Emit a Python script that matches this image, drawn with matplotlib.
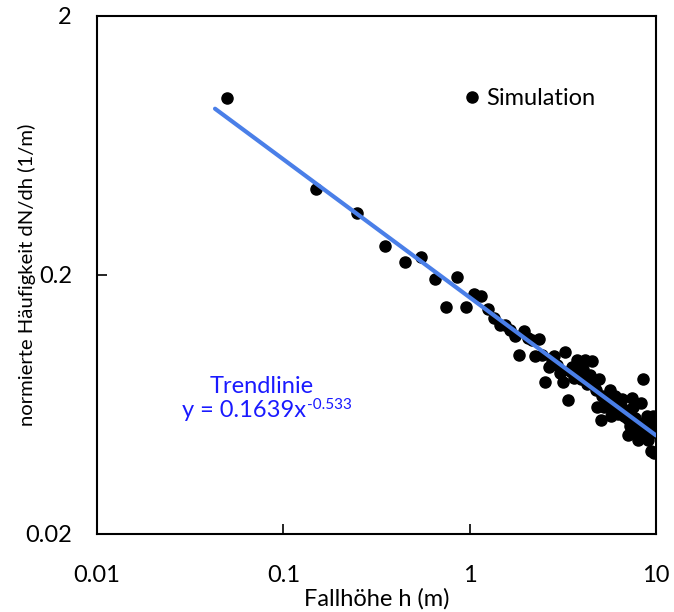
import matplotlib
matplotlib.use('Agg')
import matplotlib.pyplot as plt
import numpy as np

plt.rcParams['font.family'] = ['Lato', 'DejaVu Sans']

# bin centres of the fall height (m)
h = [0.05, 0.15, 0.25, 0.35, 0.45, 0.55, 0.65, 0.75, 0.85, 0.95,
     1.05, 1.15, 1.25, 1.35, 1.45, 1.55, 1.65, 1.75, 1.85, 1.95,
     2.05, 2.15, 2.25, 2.35, 2.45, 2.55, 2.65, 2.75, 2.85, 2.95,
     3.05, 3.15, 3.25, 3.35, 3.45, 3.55, 3.65, 3.75, 3.85, 3.95,
     4.05, 4.15, 4.25, 4.35, 4.45, 4.55, 4.65, 4.75, 4.85, 4.95,
     5.05, 5.15, 5.25, 5.35, 5.45, 5.55, 5.65, 5.75, 5.85, 5.95,
     6.05, 6.15, 6.25, 6.35, 6.45, 6.55, 6.65, 6.75, 6.85, 6.95,
     7.05, 7.15, 7.25, 7.35, 7.45, 7.55, 7.65, 7.75, 7.85, 7.95,
     8.05, 8.15, 8.25, 8.35, 8.45, 8.55, 8.65, 8.75, 8.85, 8.95,
     9.05, 9.15, 9.25, 9.35, 9.45, 9.55, 9.65, 9.75, 9.85, 9.95]

# normalised frequency dN/dh (1/m)
freq = [0.965, 0.430, 0.347, 0.259, 0.224, 0.235, 0.193, 0.150, 0.196, 0.150,
        0.169, 0.166, 0.148, 0.136, 0.128, 0.128, 0.123, 0.116, 0.098, 0.122,
        0.114, 0.112, 0.097, 0.113, 0.098, 0.077, 0.088, 0.094, 0.097, 0.090,
        0.084, 0.077, 0.101, 0.066, 0.085, 0.088, 0.080, 0.094, 0.083, 0.079,
        0.087, 0.094, 0.076, 0.077, 0.082, 0.093, 0.075, 0.072, 0.062, 0.079,
        0.055, 0.068, 0.062, 0.067, 0.064, 0.069, 0.072, 0.057, 0.062, 0.064,
        0.068, 0.061, 0.058, 0.063, 0.060, 0.0665, 0.061, 0.057, 0.060, 0.056,
        0.048, 0.055, 0.052, 0.0575, 0.067, 0.062, 0.053, 0.056, 0.052, 0.050,
        0.046, 0.052, 0.051, 0.064, 0.048, 0.079, 0.050, 0.054, 0.049, 0.057,
        0.046, 0.048, 0.051, 0.042, 0.054, 0.050, 0.057, 0.041, 0.053, 0.054]

# power law trend y = a * x^b
a, b = 0.1639, -0.533
trend_x = [0.043, 10]

fig = plt.figure(figsize=(6.74, 6.12), dpi=100)
ax = fig.add_axes([0.1439, 0.1275, 0.8294, 0.8464])

ax.plot(h, freq, 'o', color='black', ms=8, label='Simulation', zorder=2)
tx = np.array(trend_x)
ax.plot(tx, a * tx ** b, color='#4a7fe8', lw=3, solid_capstyle='round', zorder=3)

ax.set_xscale('log')
ax.set_yscale('log')
ax.set_xlim(0.01, 10)
ax.set_ylim(0.02, 2)
ax.set_xticks([0.01, 0.1, 1, 10])
ax.set_xticklabels(['0.01', '0.1', '1', '10'])
ax.set_yticks([0.02, 0.2, 2])
ax.set_yticklabels(['0.02', '0.2', '2'])
ax.minorticks_off()
ax.tick_params(direction='in', length=7, width=1.2, labelsize=17)
ax.tick_params(axis='x', pad=22)
ax.tick_params(axis='y', pad=18)
for s in ax.spines.values():
    s.set_linewidth(1.5)

ax.set_xlabel('Fallhöhe h (m)', fontsize=17)
ax.xaxis.set_label_coords(0.5, -0.104)
ax.set_ylabel('normierte Häufigkeit dN/dh (1/m)', fontsize=14.6)
ax.yaxis.set_label_coords(-0.109, 0.5)

ax.legend(loc='center left', bbox_to_anchor=(0.612, 0.84), frameon=False,
          fontsize=17, handletextpad=0.1, handlelength=1.0)

blue = '#1a1aff'
ax.text(0.295, 0.284, 'Trendlinie', color=blue, fontsize=17, ha='center', va='center',
        transform=ax.transAxes)
eq = ax.text(0.152, 0.239, 'y = 0.1639x', color=blue, fontsize=17, ha='left', va='center',
             transform=ax.transAxes)
ax.annotate('-0.533', xy=(1, 1), xycoords=eq, xytext=(1, 1), textcoords='offset points',
            color=blue, fontsize=11, ha='left', va='top')

fig.savefig('out.png', dpi=100)
